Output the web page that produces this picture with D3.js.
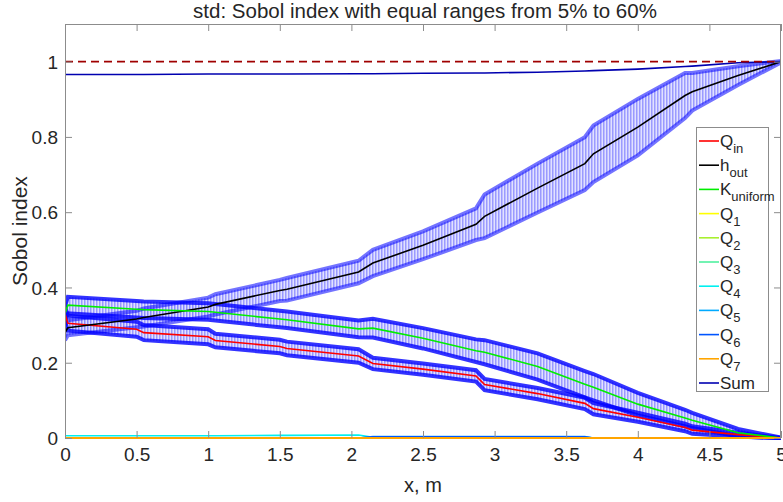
<!DOCTYPE html>
<html><head><meta charset="utf-8">
<script src="https://cdn.jsdelivr.net/npm/d3@7"></script>
<style>body{margin:0;background:#fff}svg{display:block}text{font-family:"Liberation Sans",Arial,sans-serif;fill:#262626}</style>
</head><body><svg id="c" width="783" height="502"></svg>
<script>
const xs = [0, 0.02, 0.5, 0.55, 1.0, 1.05, 1.5, 1.55, 2.05, 2.15, 2.5, 2.87, 2.93, 3.3, 3.63, 3.69, 4.0, 4.33, 4.38, 4.7, 5.0];
const hOut   = [0.28, 0.293, 0.316, 0.32, 0.348, 0.355, 0.392, 0.395, 0.441, 0.465, 0.512, 0.568, 0.589, 0.664, 0.729, 0.755, 0.826, 0.91, 0.92, 0.963, 1.0];
const hOutSd = [0.02, 0.02, 0.022, 0.024, 0.025, 0.027, 0.028, 0.03, 0.03, 0.035, 0.037, 0.042, 0.058, 0.065, 0.07, 0.075, 0.075, 0.06, 0.05, 0.025, 0.002];
const kUni   = [0.33, 0.353, 0.342, 0.341, 0.336, 0.334, 0.316, 0.314, 0.29, 0.292, 0.265, 0.232, 0.228, 0.19, 0.143, 0.135, 0.09, 0.053, 0.047, 0.014, 0];
const kUniSd = [0.02, 0.022, 0.022, 0.022, 0.022, 0.022, 0.022, 0.022, 0.022, 0.025, 0.027, 0.03, 0.032, 0.035, 0.035, 0.035, 0.03, 0.022, 0.02, 0.01, 0.001];
const qIn    = [0.33, 0.305, 0.289, 0.28, 0.269, 0.259, 0.243, 0.238, 0.218, 0.198, 0.183, 0.165, 0.142, 0.118, 0.092, 0.078, 0.055, 0.028, 0.021, 0.009, 0];
const qInSd  = [0.02, 0.02, 0.02, 0.02, 0.02, 0.018, 0.018, 0.018, 0.018, 0.015, 0.015, 0.015, 0.015, 0.015, 0.015, 0.015, 0.012, 0.01, 0.01, 0.005, 0];
const q1     = [0,0,0,0,0,0,0,0,0,0,0,0,0,0,0,0,0,0,0,0,0];
const q2     = [0,0,0,0,0,0,0,0,0,0,0,0,0,0,0,0,0,0,0,0,0];
const q3     = [0,0,0,0,0,0,0,0,0,0,0,0,0,0,0,0,0,0,0,0,0];
const q4     = [0.006, 0.006, 0.006, 0.006, 0.006, 0.006, 0.007, 0.007, 0.008, 0.002, 0.001, 0.001, 0.001, 0.001, 0.001, 0, 0, 0, 0, 0, 0];
const q5     = [0, 0, 0, 0, 0, 0, 0, 0, 0, 0.004, 0.004, 0.004, 0.004, 0.004, 0.004, 0, 0, 0, 0, 0, 0];
const q6     = [0, 0, 0, 0, 0, 0, 0, 0, 0, 0.003, 0.003, 0.003, 0.003, 0.003, 0.003, 0, 0, 0, 0, 0, 0];
const q7     = [0,0,0,0,0,0,0,0,0,0,0,0,0,0,0,0,0,0,0,0,0];
const sumIdx = [0.966, 0.966, 0.966, 0.966, 0.967, 0.967, 0.967, 0.967, 0.968, 0.968, 0.969, 0.97, 0.97, 0.972, 0.975, 0.976, 0.98, 0.987, 0.988, 0.997, 1.0];
const xTicks = [0, 0.5, 1, 1.5, 2, 2.5, 3, 3.5, 4, 4.5, 5];
const yTicks = [0, 0.2, 0.4, 0.6, 0.8, 1];
const seriesNames = ["Q|in","h|out","K|uniform","Q|1","Q|2","Q|3","Q|4","Q|5","Q|6","Q|7","Sum"];
const seriesColors = ["#ff0000","#000000","#00ee00","#ffff00","#a8f030","#50f0a0","#00f0f0","#00aaff","#0055ff","#ffa500","#0000b0"];
const seriesData = [qIn, hOut, kUni, q1, q2, q3, q4, q5, q6, q7, sumIdx];
const bands = [[hOut, hOutSd], [kUni, kUniSd], [qIn, qInSd]];

const svg = d3.select("#c");
const L = 65, R = 781, T = 24, B = 438;
const x = d3.scaleLinear().domain([0, 5]).range([L, R]);
const y = d3.scaleLinear().domain([0, 1.1]).range([B, T]);

const defs = svg.append("defs");
const pat = defs.append("pattern").attr("id","stripes").attr("patternUnits","userSpaceOnUse")
  .attr("width",3).attr("height",20);
pat.append("rect").attr("width",3).attr("height",20).attr("fill","#dcdcff");
pat.append("rect").attr("width",1.5).attr("height",20).attr("fill","#8888ff");
defs.append("clipPath").attr("id","clip").append("rect").attr("x",L).attr("y",T).attr("width",R-L).attr("height",B-T+2);

const plot = svg.append("g").attr("clip-path","url(#clip)");

// bands
bands.forEach(([m, s]) => {
  const pts = xs.map((xv, i) => ({x: xv, lo: m[i] - s[i], hi: m[i] + s[i]}));
  plot.append("path").datum(pts)
    .attr("d", d3.area().x(d => x(d.x)).y0(d => y(d.lo)).y1(d => y(d.hi)))
    .attr("fill","url(#stripes)").attr("fill-opacity",0.85);
});
bands.forEach(([m, s], bi) => {
  const pts = xs.map((xv, i) => ({x: xv, lo: m[i] - s[i], hi: m[i] + s[i]}));
  ["lo","hi"].forEach(k => {
    plot.append("path").datum(pts)
      .attr("d", d3.line().x(d => x(d.x)).y(d => y(d[k])))
      .attr("fill","none").attr("stroke","#0000ff")
      .attr("stroke-opacity", bi === 0 ? 0.55 : 0.8).attr("stroke-width",4);
  });
});

// mean lines
const line = d3.line().x((d, i) => x(xs[i])).y(d => y(d));
seriesData.forEach((arr, i) => {
  plot.append("path").datum(arr).attr("d", line)
    .attr("fill","none").attr("stroke", seriesColors[i]).attr("stroke-width", i === 9 ? 2 : 1.6);
});

// reference line at 1
plot.append("line").attr("x1", x(0)).attr("x2", x(5)).attr("y1", y(1)).attr("y2", y(1))
  .attr("stroke","#a00000").attr("stroke-width",1.6).attr("stroke-dasharray","8,5");

// axes frame
const ax = svg.append("g").attr("stroke","#8c8c8c").attr("stroke-width",1).attr("fill","none");
ax.append("line").attr("x1",L+0.5).attr("x2",L+0.5).attr("y1",T).attr("y2",B);
ax.append("line").attr("x1",L).attr("x2",R).attr("y1",T+0.5).attr("y2",T+0.5);
ax.append("line").attr("x1",R-0.5).attr("x2",R-0.5).attr("y1",T).attr("y2",B);

const xa = svg.append("g").attr("transform",`translate(0,${B})`)
  .call(d3.axisBottom(x).tickValues(xTicks).tickFormat(d3.format("")).tickSizeInner(-7).tickSizeOuter(0).tickPadding(8));
const xt = svg.append("g").attr("transform",`translate(0,${T})`)
  .call(d3.axisTop(x).tickValues(xTicks).tickFormat("").tickSizeInner(-7).tickSizeOuter(0));
const ya = svg.append("g").attr("transform",`translate(${L},0)`)
  .call(d3.axisLeft(y).tickValues(yTicks).tickFormat(d3.format("")).tickSizeInner(-7).tickSizeOuter(0).tickPadding(7));
const yr = svg.append("g").attr("transform",`translate(${R},0)`)
  .call(d3.axisRight(y).tickValues(yTicks).tickFormat("").tickSizeInner(-7).tickSizeOuter(0));
[xa, xt, ya, yr].forEach(g => {
  g.select(".domain").remove();
  g.selectAll("line").attr("stroke","#8c8c8c");
  g.selectAll("text").attr("font-size",19).attr("fill","#262626").attr("font-family","Liberation Sans, Arial, sans-serif");
});
xa.selectAll("text").attr("dy","0.8em");
ya.selectAll("text").attr("dy","0.35em");

// titles
svg.append("text").attr("x", 425).attr("y", 18).attr("text-anchor","middle").attr("font-size",20.5)
  .text("std: Sobol index with equal ranges from 5% to 60%");
svg.append("text").attr("x", 423).attr("y", 492).attr("text-anchor","middle").attr("font-size",20)
  .text("x, m");
svg.append("text").attr("transform",`translate(27,${(T+B)/2}) rotate(-90)`).attr("text-anchor","middle").attr("font-size",21)
  .text("Sobol index");

// legend
const lg = svg.append("g");
lg.append("rect").attr("x",696.5).attr("y",127.5).attr("width",72).attr("height",264)
  .attr("fill","#fff").attr("stroke","#8c8c8c");
seriesNames.forEach((nm, i) => {
  const yy = 141 + i * 24.2;
  lg.append("line").attr("x1",699).attr("x2",719).attr("y1",yy).attr("y2",yy)
    .attr("stroke",seriesColors[i]).attr("stroke-width",1.6);
  const [base, sub] = nm.split("|");
  const t = lg.append("text").attr("x",720).attr("y",yy+6).attr("font-size",17);
  t.append("tspan").text(base);
  if (sub) t.append("tspan").attr("dy",6).attr("font-size",13).text(sub);
});
</script></body></html>
